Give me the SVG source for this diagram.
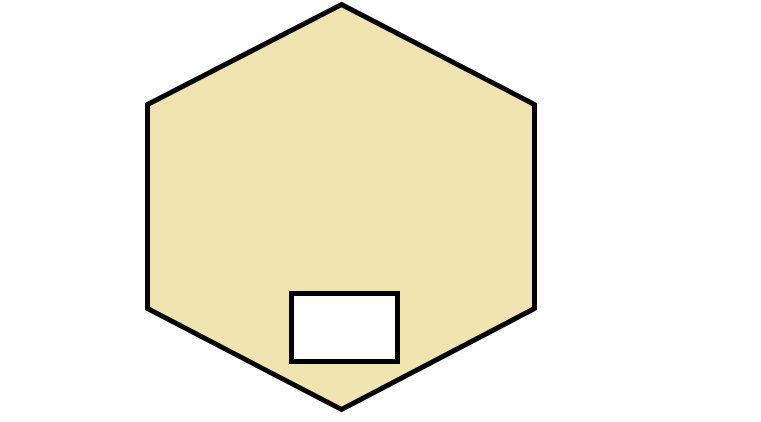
<svg xmlns="http://www.w3.org/2000/svg" width="761" height="422" viewBox="0 0 761 422">
<style>
.shape{stroke:#000;stroke-width:5;stroke-linejoin:miter}
</style>
<rect width="761" height="422" fill="#fff"/>
<g id="hexagon">
<polygon class="shape" fill="#EFE3AF" points="341.5,4.5 534.5,104.5 534.5,308.5 341.5,409.5 147.5,308.5 147.5,104.5"/>
</g>
<g id="box">
<rect class="shape" fill="#fff" x="291.5" y="293.5" width="106" height="68"/>
</g>
<g id="connectors"></g>
</svg>
